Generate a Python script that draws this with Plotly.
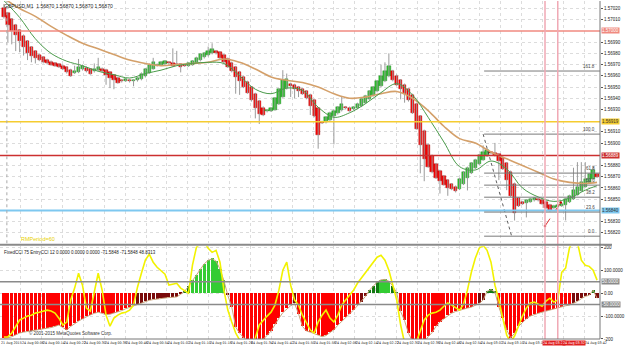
import plotly.graph_objects as go

PT = 1e-5  # one price point

# ---------------- data (prices in points, GBPUSD M1) ----------------
first_open_pts = 157020
close_pts = [
    157012, 157005, 157000, 156996, 156991, 156986, 156980, 156978, 156976, 156974,
    156972, 156971, 156970, 156969, 156968, 156966, 156963, 156960, 156964, 156968,
    156969, 156964, 156962, 156966, 156968, 156964, 156961, 156958, 156956, 156954,
    156955, 156957, 156955, 156956, 156958, 156962, 156966, 156970, 156972, 156970,
    156972, 156973, 156971, 156969, 156970, 156968, 156969, 156971, 156973, 156976,
    156979, 156980, 156982, 156984, 156980, 156976, 156972, 156968, 156964, 156959,
    156955, 156950, 156945, 156938, 156931, 156926, 156925, 156929, 156931, 156940,
    156948, 156956, 156957, 156951, 156948, 156946, 156944, 156940, 156933, 156924,
    156907, 156918, 156923, 156927, 156929, 156932, 156935, 156931, 156929, 156932,
    156935, 156939, 156942, 156946, 156950, 156955, 156960, 156964, 156969, 156956,
    156952, 156948, 156944, 156938, 156927, 156913, 156898, 156886, 156879, 156874,
    156869, 156866, 156863, 156860, 156859, 156857, 156868, 156874, 156878, 156882,
    156885, 156889, 156892, 156894, 156891, 156889, 156884, 156877, 156867, 156853,
    156838, 156844, 156846, 156849, 156850, 156851, 156849, 156846, 156842, 156840,
    156844, 156845, 156846, 156850, 156853, 156858, 156861, 156865, 156868, 156872,
    156876, 156870]
wick_up = [
    4, 1, 1, 1, 1, 1, 1, 1, 1, 1,
    1, 1, 1, 1, 1, 1, 1, 1, 5, 7,
    1, 1, 1, 5, 8, 1, 1, 1, 1, 1,
    1, 1, 1, 1, 1, 1, 1, 1, 4, 1,
    1, 1, 1, 13, 12, 1, 1, 1, 1, 1,
    1, 1, 4, 5, 1, 1, 1, 1, 1, 1,
    1, 1, 1, 1, 1, 1, 1, 1, 1, 1,
    1, 9, 5, 1, 1, 1, 1, 1, 1, 1,
    1, 1, 1, 1, 1, 1, 7, 1, 1, 1,
    1, 1, 1, 1, 1, 1, 10, 8, 11, 1,
    1, 1, 1, 1, 1, 1, 1, 1, 1, 1,
    1, 1, 1, 1, 1, 1, 1, 1, 1, 1,
    1, 1, 6, 1, 1, 9, 1, 1, 1, 1,
    1, 1, 1, 1, 1, 1, 1, 1, 1, 1,
    1, 1, 1, 1, 1, 20, 22, 18, 15, 1,
    4, 1]
wick_dn = [
    1, 15, 12, 14, 10, 8, 6, 6, 5, 1,
    1, 1, 1, 1, 1, 1, 1, 1, 1, 1,
    1, 1, 1, 1, 1, 1, 9, 9, 8, 1,
    1, 1, 1, 5, 1, 1, 1, 1, 1, 1,
    1, 1, 1, 1, 1, 5, 1, 1, 1, 1,
    1, 1, 1, 1, 1, 1, 1, 1, 1, 15,
    12, 1, 1, 1, 9, 9, 1, 1, 1, 1,
    1, 1, 1, 10, 8, 5, 1, 1, 8, 1,
    12, 1, 1, 1, 25, 1, 1, 1, 1, 1,
    1, 1, 1, 1, 1, 1, 1, 1, 1, 1,
    1, 9, 8, 1, 1, 1, 25, 20, 1, 1,
    1, 11, 1, 7, 1, 1, 1, 1, 11, 1,
    1, 1, 1, 1, 1, 1, 17, 1, 9, 1,
    7, 1, 1, 13, 1, 1, 1, 1, 1, 1,
    1, 1, 1, 14, 1, 1, 1, 1, 1, 1,
    1, 1]
ma_bars = list(range(0, 152, 4)) + [151]
ma_fast_pts = [157027, 157012, 156993, 156980, 156973, 156969, 156964, 156961, 156958, 156962,
               156965, 156969, 156971, 156972, 156971, 156960, 156948, 156944, 156949, 156947,
               156932, 156923, 156927, 156935, 156945, 156953, 156943, 156923, 156901, 156879,
               156876, 156884, 156877, 156860, 156852, 156848, 156851, 156858, 156862]
ma_slow_pts = [157029, 157020, 157013, 157004, 156996, 156989, 156984, 156979, 156974, 156971,
               156969, 156970, 156971, 156972, 156975, 156972, 156966, 156959, 156956, 156954,
               156950, 156944, 156940, 156941, 156944, 156946, 156940, 156929, 156915, 156904,
               156900, 156892, 156886, 156880, 156874, 156868, 156865, 156864, 156865]
cci_slow = [
    -196, -195, -190, -182, -174, -170, -167, -165, -163, -161,
    -157, -153, -150, -145, -139, -150, -160, -145, -132, -122,
    -112, -102, -95, -88, -83, -88, -94, -92, -87, -83,
    -76, -68, -62, -55, -48, -42, -36, -31, -28, -25,
    -23, -21, -19, -18, -16, -5, 8, 30, 55, 80,
    105, 128, 143, 150, 140, 105, 55, -10, -60, -148,
    -175, -195, -210, -212, -210, -207, -200, -185, -165, -135,
    -110, -85, -68, -55, -45, -90, -145, -165, -170, -175,
    -183, -190, -185, -172, -160, -140, -122, -105, -90, -74,
    -55, -38, -15, 12, 30, 48, 58, 60, 52, 30,
    2, -80, -120, -175, -210, -225, -230, -215, -190, -172,
    -145, -125, -112, -98, -87, -80, -74, -70, -65, -61,
    -52, -45, -30, 8, 15, 5, -60, -110, -160, -195,
    -175, -145, -128, -112, -100, -93, -88, -83, -78, -76,
    -70, -66, -60, -55, -52, -45, -36, -24, -14, -9,
    13, -22]
cci_fast = [
    -191, -191, -174, -148, -117, -109, -100, -96, -87, -83,
    -78, -74, -78, -87, -109, -139, -126, -30, 22, 87,
    35, -65, -78, 4, 87, 13, -96, -144, -109, -96,
    -87, -83, -74, -52, 26, 87, 144, 170, 135, 113,
    100, 83, 35, 39, 43, 22, 9, 0, 122, 200,
    217, 222, 196, 178, 187, 135, 13, -74, -126, -174,
    -204, -226, -239, -226, -196, -139, -117, -100, -83, -52,
    13, 100, 135, 35, -30, -52, -96, -126, -161, -174,
    -126, -96, -74, -109, -126, -96, -52, -30, -9, 13,
    43, 65, 91, 109, 135, 157, 165, 144, 100, 35,
    -30, -139, -217, -248, -248, -213, -161, -117, -96, -87,
    -83, -74, -57, -43, -52, -65, -74, -48, 13, 91,
    152, 196, 209, 187, 135, 35, -30, -109, -183, -213,
    -187, -144, -100, -65, -43, -39, -48, -57, -35, -22,
    -39, -30, 91, 109, 200, 226, 222, 144, 122, 117,
    100, 57]

price_ticks = [1.57020, 1.57010, 1.56990, 1.56980, 1.56970, 1.56960, 1.56950,
               1.56940, 1.56930, 1.56910, 1.56900, 1.56880, 1.56870,
               1.56860, 1.56850, 1.56830, 1.56820]
time_labels = ["21 Aug 2015", "24 Aug 00:06", "24 Aug 00:14", "24 Aug 00:22", "24 Aug 00:30",
               "24 Aug 00:38", "24 Aug 00:46", "24 Aug 00:54", "24 Aug 01:02", "24 Aug 01:10",
               "24 Aug 01:18", "24 Aug 01:26", "24 Aug 01:34", "24 Aug 01:42", "24 Aug 01:50",
               "24 Aug 01:58", "24 Aug 02:06", "24 Aug 02:14", "24 Aug 02:22", "24 Aug 02:30",
               "24 Aug 02:38", "24 Aug 02:46", "24 Aug 02:54", "24 Aug 03:02", "24 Aug 03:10",
               "24 Aug 03:18", "24 Aug 03:26", "24 Aug 03:34", "24 Aug 03:42"]
time_label_bars = [-1.0 + 5.3125 * k for k in range(len(time_labels))]

level_salmon = 1.57000
level_yellow = 1.56919
level_red = 1.56889
level_blue = 1.56840
fib_high, fib_low = 1.56908, 1.56817
fib_start_bar = 122.25
fib_ratios = [0.0, 23.6, 38.2, 50.0, 61.8, 100.0, 161.8]
vline_bars = [137.75, 141.0]
vline_labels = ["24 Aug 03:27", "24 Aug 03:32"]
zigzag_bars = [137.75, 141.75]
zigzag_prices = [1.56826, 1.56847]
cci_levels = [50, -50]

# ---------------- build candles (Heikin-Ashi style opens) ----------------
n = len(close_pts)
bars = list(range(n))
opens, closes, highs, lows = [], [], [], []
o = first_open_pts
for i in range(n):
    c = close_pts[i]
    opens.append(o * PT)
    closes.append(c * PT)
    highs.append((max(o, c) + wick_up[i]) * PT)
    lows.append((min(o, c) - wick_dn[i]) * PT)
    o = (o + c) / 2.0

body_base = [min(a, b) for a, b in zip(opens, closes)]
body_h = [max(abs(a - b), 0.8 * PT) for a, b in zip(opens, closes)]
body_col = ["#ff0000" if c < a else "#2fbf2f" for a, c in zip(opens, closes)]
body_line = ["#a00000" if c < a else "#1a7f1a" for a, c in zip(opens, closes)]

wx, wy = [], []
for i in range(n):
    wx += [i, i, None]
    wy += [lows[i], highs[i], None]

fig = go.Figure()
fig.add_trace(go.Scatter(x=wx, y=wy, mode="lines", line=dict(color="#9a9a9a", width=1),
                         xaxis="x", yaxis="y", hoverinfo="skip"))
fig.add_trace(go.Bar(x=bars, y=body_h, base=body_base, width=0.86,
                     marker=dict(color=body_col, line=dict(color=body_line, width=0.4)),
                     xaxis="x", yaxis="y"))
fig.add_trace(go.Scatter(x=ma_bars, y=[v * PT for v in ma_slow_pts], mode="lines",
                         line=dict(color="#d4a06a", width=1.6, shape="spline"), xaxis="x", yaxis="y"))
fig.add_trace(go.Scatter(x=ma_bars, y=[v * PT for v in ma_fast_pts], mode="lines",
                         line=dict(color="#4a9a4a", width=1, shape="spline"), xaxis="x", yaxis="y"))

fig.add_trace(go.Scatter(x=[122.0, 129.25], y=[fib_high, fib_low], mode="lines",
                         line=dict(color="#333333", width=0.8, dash="dot"), xaxis="x", yaxis="y"))
fig.add_trace(go.Scatter(x=zigzag_bars, y=zigzag_prices, mode="lines+markers",
                         line=dict(color="#e03030", width=1, dash="dash"),
                         marker=dict(size=2.5, color="#c00000"), xaxis="x", yaxis="y"))


def hcol(v):
    if v >= 50:
        return "#33cc33"
    if v >= 0:
        return "#127a12"
    if v >= -50:
        return "#7a0a0a"
    return "#ff0000"


fig.add_trace(go.Bar(x=bars, y=cci_slow, width=0.8,
                     marker=dict(color=[hcol(v) for v in cci_slow], line=dict(width=0)),
                     xaxis="x", yaxis="y2"))
fig.add_trace(go.Scatter(x=bars, y=cci_slow, mode="lines", line=dict(color="#c9a27a", width=1),
                         xaxis="x", yaxis="y2"))
fig.add_trace(go.Scatter(x=bars, y=cci_fast, mode="lines", line=dict(color="#f2f200", width=1.6),
                         xaxis="x", yaxis="y2"))

shapes = []
for lv, colr, w in [(level_salmon, "#f08a80", 1.5), (level_yellow, "#f5cc30", 1.5),
                    (level_red, "#cc3030", 1.5), (level_blue, "#7ec8f0", 2)]:
    shapes.append(dict(type="line", xref="paper", x0=0, x1=1, yref="y", y0=lv, y1=lv,
                       line=dict(color=colr, width=w)))
for r in fib_ratios:
    lv = fib_low + (fib_high - fib_low) * r / 100.0
    shapes.append(dict(type="line", xref="x", x0=fib_start_bar, x1=151.75, yref="y", y0=lv, y1=lv,
                       line=dict(color="#7a7a7a", width=1)))
for lv in cci_levels:
    shapes.append(dict(type="line", xref="paper", x0=0, x1=1, yref="y2", y0=lv, y1=lv,
                       line=dict(color="#8a8a8a", width=1.5)))
for vb in vline_bars:
    shapes.append(dict(type="line", xref="x", x0=vb, x1=vb, yref="paper", y0=0, y1=1,
                       line=dict(color="#f0a8b4", width=1.5)))
shapes.append(dict(type="line", xref="x", x0=0.75, x1=0.75, yref="paper", y0=0.2832, y1=1,
                   line=dict(color="#aaaaaa", width=1, dash="dot")))
shapes.append(dict(type="line", xref="paper", x0=0, x1=1.02, yref="paper", y0=0.279, y1=0.279,
                   line=dict(color="#8a8a8a", width=2)))
shapes.append(dict(type="line", xref="paper", x0=1, x1=1, yref="paper", y0=0, y1=1,
                   line=dict(color="#777777", width=1)))
shapes.append(dict(type="line", xref="paper", x0=0, x1=1, yref="paper", y0=0, y1=0,
                   line=dict(color="#777777", width=1)))

F = "Liberation Sans"
FN = "Liberation Sans Narrow, DejaVu Sans Condensed, Liberation Sans"
ann = []
ann.append(dict(text="GBPUSD,M1  1.56870 1.56870 1.56870 1.56870", x=0.004, y=1, xref="paper",
                yref="paper", xanchor="left", yanchor="top", showarrow=False,
                font=dict(size=5, family=F, color="#222222")))
ann.append(dict(text="RMPeriod=60", x=0.032, y=0.2945, xref="paper", yref="paper",
                xanchor="left", yanchor="middle", showarrow=False,
                font=dict(size=5.5, family=F, color="#e8d000")))
ann.append(dict(text="FixedCCI 75 EntryCCI 12 0.0000 0.0000 0.0000 -71.5848 -71.5848 48.8313",
                x=0.004, y=0.268, xref="paper", yref="paper", xanchor="left", yanchor="top",
                showarrow=False, font=dict(size=4.5, family=F, color="#222222")))
ann.append(dict(text="\u00a9 2001-2015 MetaQuotes Software Corp.", x=0.045, y=0.004, xref="paper",
                yref="paper", xanchor="left", yanchor="bottom", showarrow=False,
                font=dict(size=4.5, family=F, color="#333333")))
# time labels (those hidden under the red vertical-line boxes are not drawn, as in the reference)
for tb, tl in zip(time_label_bars, time_labels):
    if vline_bars[0] - 1.5 < tb < vline_bars[1] + 2.5:
        continue
    ann.append(dict(text=tl, x=tb, y=0, xref="x", yref="paper", xanchor="left", yanchor="top",
                    yshift=-1, borderpad=0, showarrow=False,
                    font=dict(size=3.6, family=FN, color="#222222")))
ann.append(dict(text=vline_labels[0], x=vline_bars[0], y=0, xref="x", yref="paper", xanchor="left",
                yanchor="top", yshift=-1, xshift=-3, showarrow=False, bgcolor="#e02020", borderpad=0,
                font=dict(size=3.6, family=FN, color="white")))
ann.append(dict(text=vline_labels[1], x=vline_bars[1], y=0, xref="x", yref="paper", xanchor="left",
                yanchor="top", yshift=-1, xshift=4, showarrow=False, bgcolor="#e02020", borderpad=0,
                font=dict(size=3.6, family=FN, color="white")))
for r in fib_ratios:
    lv = fib_low + (fib_high - fib_low) * r / 100.0
    ann.append(dict(text="%.1f" % r, x=151.0, y=lv, xref="x", yref="y", xanchor="right",
                    yanchor="bottom", showarrow=False, font=dict(size=4.5, family=F, color="#444444")))
for lv, bg, fc in [(level_salmon, "#f08a80", "#ffffff"), (level_yellow, "#f5cc30", "#333333"),
                   (level_red, "#cc3030", "#ffffff"), (level_blue, "#7ec8f0", "#333333")]:
    ann.append(dict(text="%.5f" % lv, x=1, y=lv, xref="paper", yref="y", xanchor="left",
                    yanchor="middle", xshift=1, showarrow=False, bgcolor=bg, borderpad=0,
                    font=dict(size=4.5, family=F, color=fc)))
for lv in cci_levels:
    ann.append(dict(text="%.4f" % lv, x=1, y=lv, xref="paper", yref="y2", xanchor="left",
                    yanchor="middle", xshift=1, showarrow=False, bgcolor="#8a8a8a", borderpad=0,
                    font=dict(size=4.5, family=F, color="#ffffff")))

fig.update_layout(
    width=625, height=347, margin=dict(l=0, r=14, t=0, b=8),
    paper_bgcolor="white", plot_bgcolor="white", showlegend=False, barmode="overlay",
    shapes=shapes, annotations=ann, bargap=0,
    xaxis=dict(range=[-1, 151.75], anchor="y2", showgrid=True, gridcolor="#dcdcdc", griddash="dot",
               gridwidth=1, tickvals=time_label_bars, showticklabels=False, zeroline=False,
               ticks=""),
    yaxis=dict(domain=[0.2832, 1], range=[1.5681067, 1.5702667], side="right", showgrid=True,
               gridcolor="#dcdcdc", griddash="dot", tickvals=price_ticks,
               ticktext=["%.5f" % v for v in price_ticks], ticks="outside", ticklen=2,
               tickcolor="#555555", tickfont=dict(size=4.5, family=F, color="#222222"),
               zeroline=False),
    yaxis2=dict(domain=[0, 0.2743], range=[-200, 204.5], side="right", showgrid=True,
                gridcolor="#dcdcdc", griddash="dot", tickvals=[200, 100, 0, -100, -200],
                ticktext=["200", "100.0000", "0.00", "-100.0000", "-200"], ticks="outside",
                ticklen=2, tickcolor="#555555", tickfont=dict(size=4.5, family=F, color="#222222"),
                zeroline=False),
)
fig.write_html("out.html")
